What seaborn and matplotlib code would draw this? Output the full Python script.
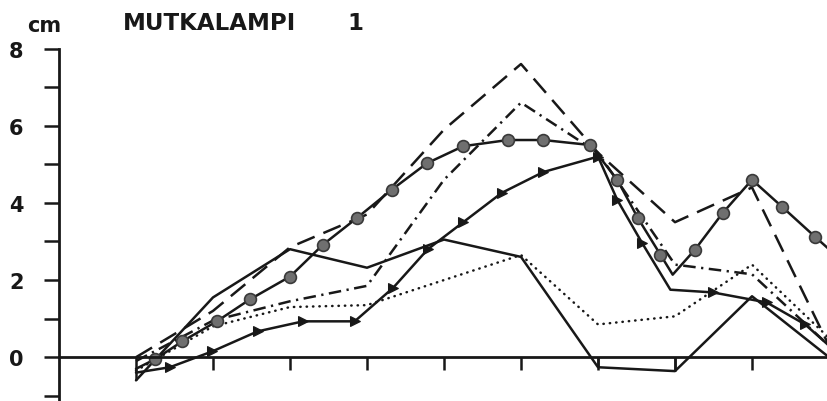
import numpy as np
import pandas as pd
import matplotlib
matplotlib.use("Agg")
import matplotlib.pyplot as plt
import seaborn as sns

# ---- data (x in tick units, y in cm) ----
x_ticks = [1, 2, 3, 4, 5, 6, 7, 8, 9]
y_ticks = [-1, 0, 1, 2, 3, 4, 5, 6, 7, 8]
y_labels = ["", "0", "", "2", "", "4", "", "6", "", "8"]

solid_x = [0, 1, 2, 3, 4, 5, 6, 7, 8, 9]
solid_y = [-0.6, 1.55, 2.8, 2.32, 3.05, 2.6, -0.26, -0.36, 1.58, 0.0]

dash_x = [0, 1, 2, 3, 4, 5, 6, 7, 8, 9]
dash_y = [0.0, 1.2, 2.85, 3.7, 5.9, 7.6, 5.3, 3.5, 4.4, 0.3]

dashdot_x = [0, 1, 2, 3, 4, 5, 6, 7, 8, 9]
dashdot_y = [-0.1, 0.95, 1.45, 1.85, 4.6, 6.6, 5.3, 2.4, 2.15, 0.3]

dotted_x = [0, 1, 2, 3, 4, 5, 6, 7, 8, 9]
dotted_y = [-0.35, 0.8, 1.3, 1.35, 2.0, 2.65, 0.85, 1.06, 2.4, 0.5]

tri_x = [0, 0.44, 0.99, 1.58, 2.17, 2.84, 3.34, 3.79, 4.25, 4.75, 5.29, 6.0,
         6.25, 6.57, 6.94, 7.49, 8.19, 8.69, 9.0]
tri_y = [-0.4, -0.26, 0.15, 0.67, 0.93, 0.93, 1.8, 2.8, 3.5, 4.26, 4.8, 5.2,
         4.08, 2.97, 1.75, 1.68, 1.42, 0.85, 0.3]

circ_x = [0, 0.25, 0.6, 1.05, 1.48, 2.0, 2.43, 2.87, 3.32, 3.78, 4.25, 4.83,
          5.29, 5.9, 6.25, 6.52, 6.81, 6.97, 7.26, 7.62, 8.0, 8.39, 8.82, 9.0]
circ_y = [-0.3, -0.05, 0.41, 0.93, 1.5, 2.09, 2.92, 3.61, 4.34, 5.03, 5.47, 5.63,
          5.63, 5.5, 4.6, 3.6, 2.66, 2.14, 2.79, 3.74, 4.6, 3.9, 3.12, 2.8]

title = "MUTKALAMPI"
title_num = "1"
unit = "cm"

# ---- style ----
sns.set_theme(style="white")
plt.rcParams["font.family"] = ["DejaVu Sans"]
ink = "#181818"
lw = 1.8

fig = plt.figure(figsize=(8.28, 4.02), dpi=100)
fig.patch.set_facecolor("white")
ax = fig.add_axes([59 / 828, 0, 770 / 828, 355.5 / 402])
ax.set_facecolor("white")

common = dict(ax=ax, color=ink, lw=lw, estimator=None, sort=False, legend=False)

sns.lineplot(x=solid_x, y=solid_y, **common)
sns.lineplot(x=dash_x, y=dash_y, linestyle=(0, (7.5, 3.8)), **common)
sns.lineplot(x=dashdot_x, y=dashdot_y, linestyle=(0, (5, 2.2, 0.9, 2.2)), **common)
sns.lineplot(x=dotted_x, y=dotted_y, linestyle=(0, (0.15, 2.4)),
             dash_capstyle="round", **common)

tri_marks = [i for i in range(len(tri_x)) if i not in (0, 14, len(tri_x) - 1)]
sns.lineplot(x=tri_x, y=tri_y, marker=">", markersize=7.5, markerfacecolor=ink,
             markeredgecolor=ink, markevery=tri_marks, **common)

circ_marks = [i for i in range(len(circ_x)) if i not in (0, 17, len(circ_x) - 1)]
sns.lineplot(x=circ_x, y=circ_y, marker="o", markersize=8.5, markerfacecolor="#6f6f6f",
             markeredgecolor="#3a3a3a", markeredgewidth=1.2, markevery=circ_marks, **common)

# drop lines for negative values of the plain solid series
neg = [(xv, yv) for xv, yv in zip(solid_x, solid_y) if yv < 0]
ax.vlines([p[0] for p in neg], [p[1] for p in neg], 0, color=ink, lw=lw)

# ---- axes ----
ax.set_xlim(-1, 9)
ax.set_ylim(-1.135, 8.08)
for s in ("top", "right"):
    ax.spines[s].set_visible(False)
ax.spines["bottom"].set_position(("data", 0))
ax.spines["left"].set_bounds(-1.135, 8.0)
for s in ("bottom", "left"):
    ax.spines[s].set_color(ink)
    ax.spines[s].set_linewidth(2.0)

ax.set_xticks(x_ticks)
ax.set_xticklabels([])
ax.set_yticks(y_ticks)
ax.set_yticklabels(y_labels)
ax.tick_params(axis="x", direction="out", length=9.5, width=1.8, color=ink, bottom=True)
ax.tick_params(axis="y", direction="out", length=10.5, width=1.8, color=ink, left=True,
               pad=15, labelsize=15, labelcolor=ink)
for t in ax.get_yticklabels():
    t.set_fontweight("bold")
ax.set_xlabel("")
ax.set_ylabel("")
ax.grid(False)

fig.text(27 / 828, 1 - 32 / 402, unit, fontsize=15, fontweight="bold", color=ink,
         ha="left", va="baseline")
fig.text(123 / 828, 1 - 30 / 402, title, fontsize=16.5, fontweight="bold", color=ink,
         ha="left", va="baseline")
fig.text(347 / 828, 1 - 30 / 402, title_num, fontsize=16.5, fontweight="bold", color=ink,
         ha="left", va="baseline")

fig.savefig("out.png", dpi=100, facecolor="white")
